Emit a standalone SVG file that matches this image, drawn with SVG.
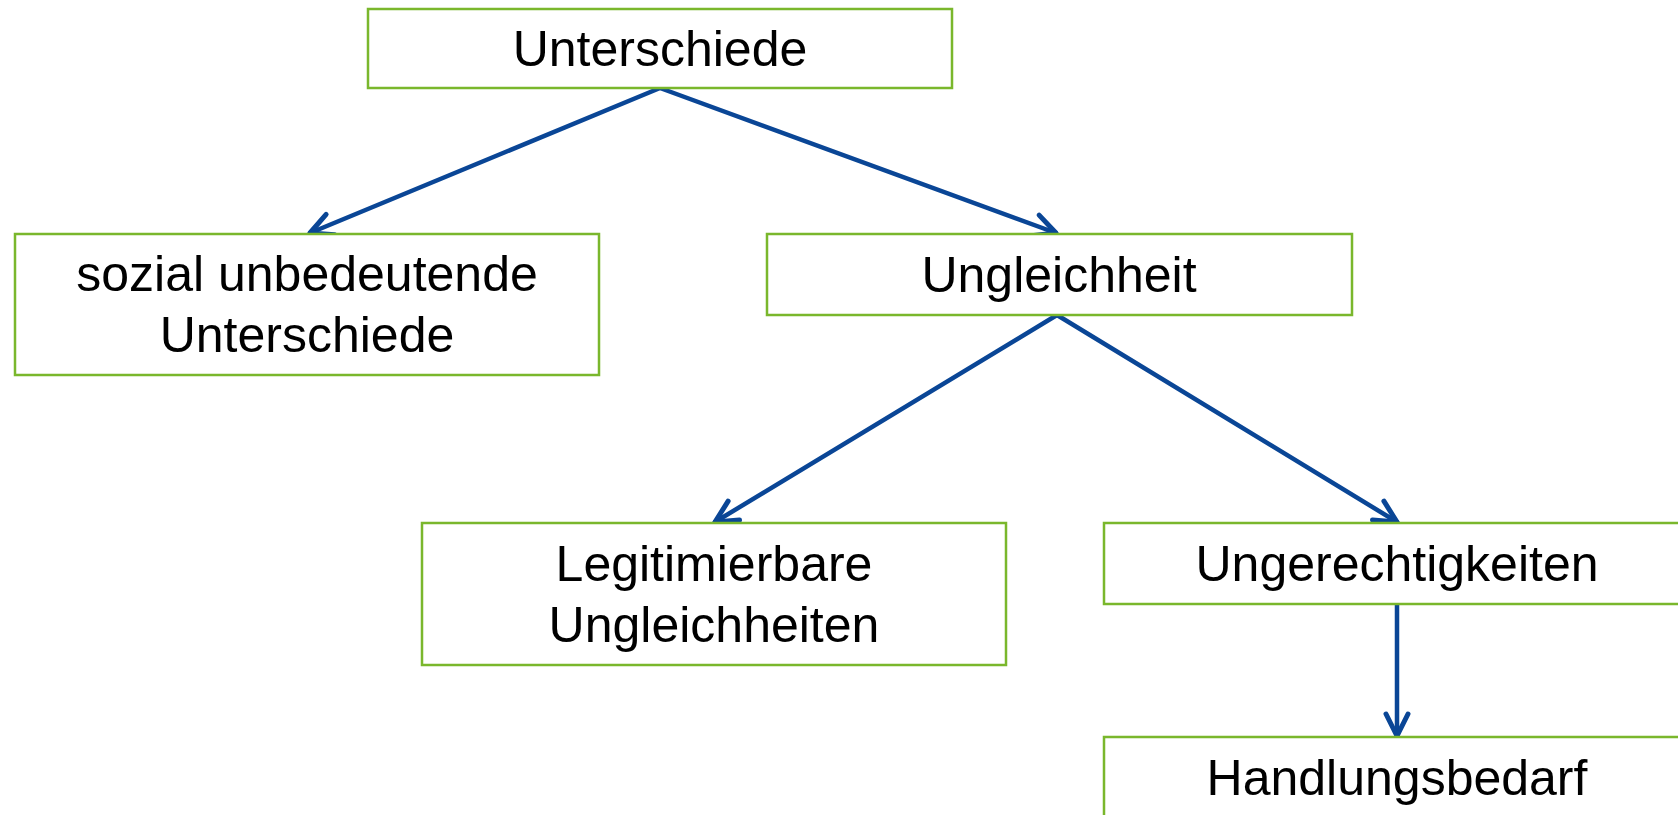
<svg xmlns="http://www.w3.org/2000/svg" width="1678" height="815" viewBox="0 0 1678 815">
<style>
.box{fill:#fff;stroke:#7AB72C;stroke-width:2.5}
.lbl{font-family:"Liberation Sans",Arial,sans-serif;font-size:50px;fill:#000;text-anchor:middle}
.con{stroke:#0A4696;stroke-width:4.5;fill:none;stroke-linecap:round}
</style>
<defs>
<marker id="ah" markerUnits="userSpaceOnUse" markerWidth="40" markerHeight="40" viewBox="-30 -20 40 40" refX="0" refY="0" orient="auto">
<path d="M-22,-11 L0,0 L-22,11" fill="none" stroke="#0A4696" stroke-width="5" stroke-linecap="round" stroke-linejoin="round"/>
</marker>
</defs>
<rect width="1678" height="815" fill="#fff"/>
<g id="connectors">
<line class="con" x1="660" y1="88" x2="310" y2="233" marker-end="url(#ah)"/>
<line class="con" x1="660" y1="88" x2="1056" y2="233" marker-end="url(#ah)"/>
<line class="con" x1="1057" y1="315" x2="715" y2="522" marker-end="url(#ah)"/>
<line class="con" x1="1057" y1="315" x2="1397" y2="522" marker-end="url(#ah)"/>
<line class="con" x1="1397" y1="604" x2="1397" y2="736" marker-end="url(#ah)"/>
</g>
<g id="n1">
<rect class="box" x="368" y="9" width="584" height="79"/>
<text class="lbl" x="660" y="66">Unterschiede</text>
</g>
<g id="n2">
<rect class="box" x="15" y="234" width="584" height="141"/>
<text class="lbl" x="307" y="291">sozial unbedeutende</text>
<text class="lbl" x="307" y="352">Unterschiede</text>
</g>
<g id="n3">
<rect class="box" x="767" y="234" width="585" height="81"/>
<text class="lbl" x="1059" y="292">Ungleichheit</text>
</g>
<g id="n4">
<rect class="box" x="422" y="523" width="584" height="142"/>
<text class="lbl" x="714" y="581">Legitimierbare</text>
<text class="lbl" x="714" y="642">Ungleichheiten</text>
</g>
<g id="n5">
<rect class="box" x="1104" y="523" width="586" height="81"/>
<text class="lbl" x="1397" y="581">Ungerechtigkeiten</text>
</g>
<g id="n6">
<rect class="box" x="1104" y="737" width="586" height="90"/>
<text class="lbl" x="1397" y="795">Handlungsbedarf</text>
</g>
</svg>
